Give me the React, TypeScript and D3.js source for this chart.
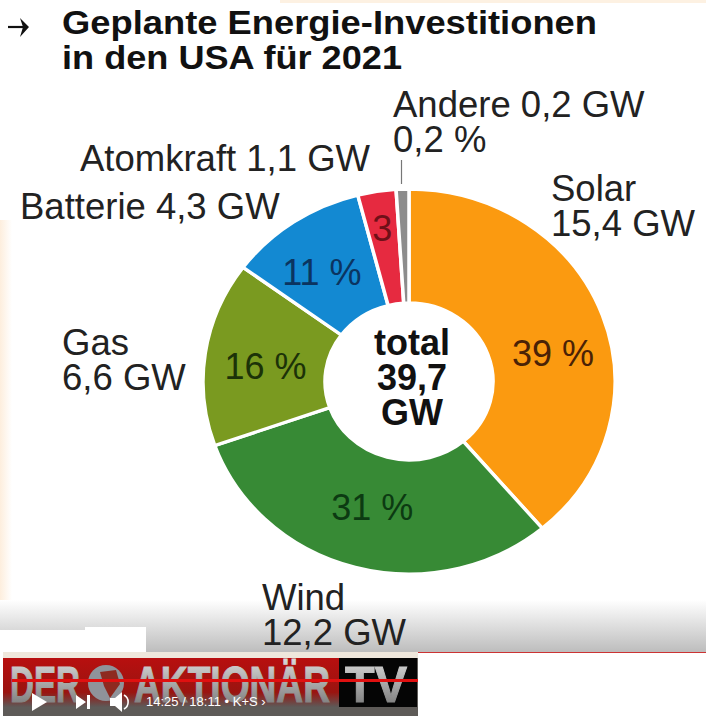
import React from "react";
import * as d3 from "d3";

const categories = ["Solar", "Wind", "Gas", "Batterie", "Atomkraft", "Andere"];
const drawnShares = [38.8, 30.8, 15.5, 10.9, 3.0, 1.0];
const shareLabels = ["39 %", "31 %", "16 %", "11 %", "3", ""];
const colors = ["#fb9a10", "#378a35", "#7a9a20", "#1389d2", "#e62a40", "#8c8c8c"];
const labelNudgeX = [8, 1, 0, -6, -4, 0];
const labelNudgeY = [31, 8, 17, 16, -7, 0];
const labelInk = ["#4a2206", "#0c3a12", "#1c3208", "#0b3460", "#701018", "#000"];
const outerLabels = [
  { lines: ["Solar", "15,4 GW"], x: 551, y: 201, anchor: "start" },
  { lines: ["Wind", "12,2 GW"], x: 262, y: 610, anchor: "start" },
  { lines: ["Gas", "6,6 GW"], x: 62, y: 355, anchor: "start" },
  { lines: ["Batterie 4,3 GW"], x: 20, y: 219, anchor: "start" },
  { lines: ["Atomkraft 1,1 GW"], x: 80, y: 171, anchor: "start" },
  { lines: ["Andere 0,2 GW", "0,2 %"], x: 393, y: 117, anchor: "start" },
];
const titleLines = ["Geplante Energie-Investitionen", "in den USA für 2021"];
const centerLines = ["total", "39,7", "GW"];
const playerText = "14:25 / 18:11  •  K+S  ›";

const FONT = "Liberation Sans, Arial, sans-serif";
const cx = 409;
const cy = 381.5;
const rx = 206;
const ry = 192.5;
const inner = 84;

export default function App() {
  const pie = d3.pie<number>().sort(null).value((d) => d)(drawnShares);
  const arc = d3.arc<d3.PieArcDatum<number>>().innerRadius(inner).outerRadius(rx);
  const labelArc = d3.arc<d3.PieArcDatum<number>>().innerRadius(145).outerRadius(145);
  const ys = ry / rx;
  return (
    <svg width={706} height={720} style={{ position: "absolute", left: 0, top: 0, fontFamily: FONT }}>
      <defs>
        <linearGradient id="fade" x1="0" y1="0" x2="0" y2="1">
          <stop offset="0" stopColor="#ffffff" />
          <stop offset="1" stopColor="#bdbdbd" />
        </linearGradient>
        <linearGradient id="side" x1="0" y1="0" x2="1" y2="0">
          <stop offset="0" stopColor="#fdeedd" />
          <stop offset="1" stopColor="#ffffff" />
        </linearGradient>
        <linearGradient id="banner" x1="0" y1="0" x2="0" y2="1">
          <stop offset="0" stopColor="#b80f0f" />
          <stop offset="0.7" stopColor="#9a1410" />
          <stop offset="1" stopColor="#5d5a58" />
        </linearGradient>
        <linearGradient id="letters" x1="0" y1="0" x2="0" y2="1">
          <stop offset="0" stopColor="#dcdcdc" />
          <stop offset="1" stopColor="#6f6f6f" />
        </linearGradient>
      </defs>
      <rect width={706} height={720} fill="#fff" />
      <rect x={280} y={0} width={426} height={3} fill="#fdf1e2" />
      <rect x={0} y={220} width={12} height={400} fill="url(#side)" />
      <rect x={0} y={600} width={706} height={52} fill="url(#fade)" />
      <rect x={0} y={630} width={110} height={22} fill="#fff" />
      <rect x={85} y={627} width={61} height={25} fill="#fff" />
      <rect x={418} y={652} width={288} height={1} fill="#c33" />

      <path d="M8 27H27" fill="none" stroke="#111" strokeWidth={2.2} />
      <path d="M20 18L29 27L20 37L23 27Z" fill="#111" />
      {titleLines.map((t, i) => (
        <text key={t} x={62} y={34 + i * 35} fontSize={33} fontWeight={700} fill="#111" textLength={i === 0 ? 535 : 340} lengthAdjust="spacingAndGlyphs">
          {t}
        </text>
      ))}

      <line x1={401.5} y1={160} x2={401.5} y2={184} stroke="#777" strokeWidth={1.2} />

      <g transform={`translate(${cx},${cy}) scale(1,${ys})`}>
        {pie.map((p, i) => (
          <path key={categories[i]} d={arc(p) as string} fill={colors[i]} stroke="#fff" strokeWidth={3.5} />
        ))}
      </g>
      {pie.map((p, i) => {
        const [x, y] = labelArc.centroid(p);
        return (
          <text
            key={categories[i] + "l"}
            x={cx + x + labelNudgeX[i]}
            y={cy + y * ys + labelNudgeY[i]}
            textAnchor="middle"
            fontSize={36}
            fill={labelInk[i]}
          >
            {shareLabels[i]}
          </text>
        );
      })}
      {outerLabels.map((l) => (
        <text key={l.lines[0]} fontSize={36.5} fill="#222" textAnchor={l.anchor}>
          {l.lines.map((s, i) => (
            <tspan key={s} x={l.x} y={l.y + i * 35}>
              {s}
            </tspan>
          ))}
        </text>
      ))}
      {centerLines.map((t, i) => (
        <text key={t} x={412} y={355 + i * 35} textAnchor="middle" fontSize={36} fontWeight={700} fill="#111">
          {t}
        </text>
      ))}

      <rect x={3} y={652} width={415} height={64} fill="#5e5b58" />
      <rect x={3} y={652} width={415} height={6} fill="#efe7dc" />
      <rect x={3} y={658} width={336} height={49} fill="url(#banner)" />
      <rect x={339} y={658} width={78} height={49} fill="#050505" />
      <text x={10} y={702} fontSize={50} fontWeight={700} fill="url(#letters)" stroke="url(#letters)" strokeWidth={1} textLength={70} lengthAdjust="spacingAndGlyphs">DER</text>
      <circle cx={106} cy={683} r={18} fill="#8f939a" />
      <path d="M100 672L116 670L120 684L110 698L104 686Z" fill="#8e2a20" />
      <text x={134} y={702} fontSize={50} fontWeight={700} fill="url(#letters)" stroke="url(#letters)" strokeWidth={1} textLength={196} lengthAdjust="spacingAndGlyphs">AKTIONÄR</text>
      <text x={345} y={702} fontSize={50} fontWeight={700} fill="url(#letters)" stroke="url(#letters)" strokeWidth={1} textLength={62} lengthAdjust="spacingAndGlyphs">TV</text>
      <rect x={12} y={679} width={406} height={3} fill="#e01010" />
      <path d="M32 693L47 702L32 711Z" fill="#fff" />
      <path d="M76 695L86 702L76 709ZM87 695H90V709H87Z" fill="#fff" />
      <path d="M110 698H115L122 692V712L115 706H110Z" fill="#fff" />
      <path d="M124 695A8 8 0 0 1 124 709" fill="none" stroke="#fff" strokeWidth={1.6} />
      <text x={146} y={706} fontSize={13} fill="#fff">{playerText}</text>
    </svg>
  );
}
